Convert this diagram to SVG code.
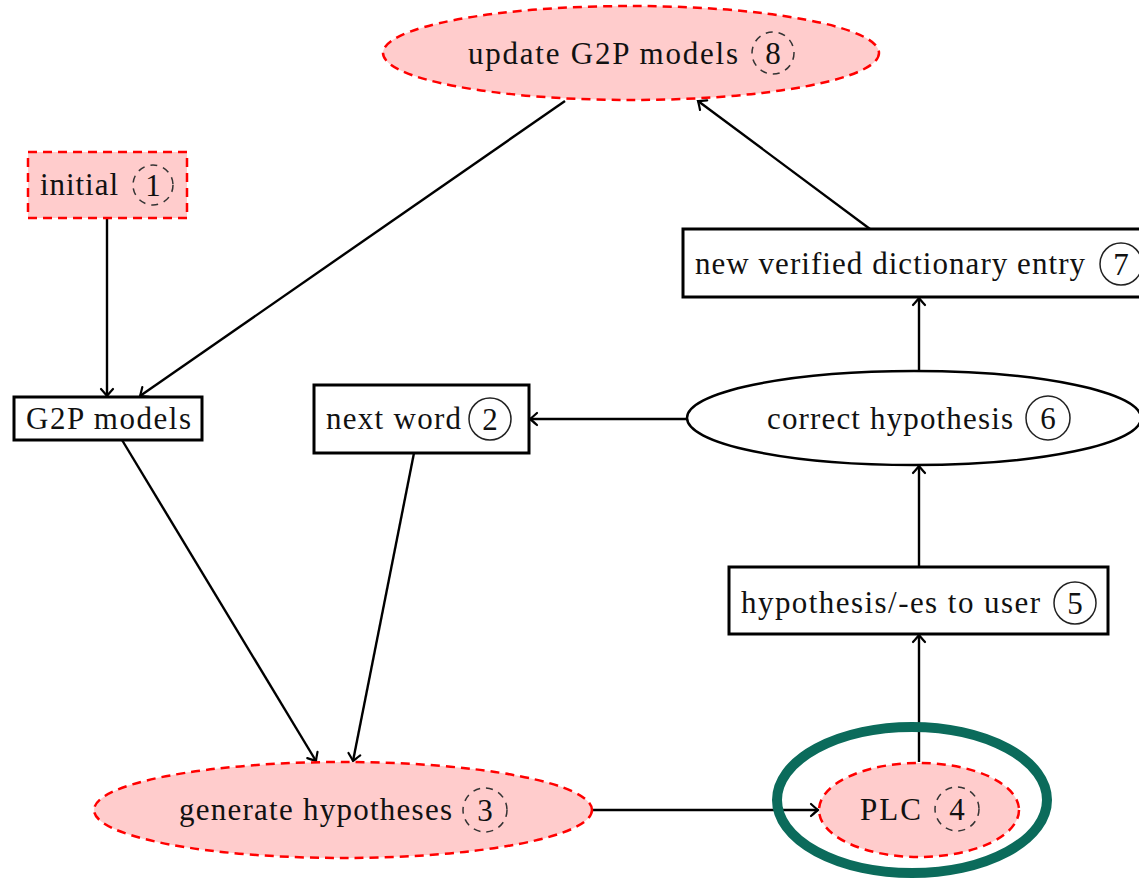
<svg xmlns="http://www.w3.org/2000/svg" width="1139" height="879" viewBox="0 0 1139 879">
<defs>
<marker id="arr" markerUnits="userSpaceOnUse" markerWidth="20" markerHeight="20" viewBox="-10 -10 20 20" refX="0" refY="0" orient="auto">
<path d="M-7,-6 Q-2,-1.5 0,0 Q-2,1.5 -7,6" fill="none" stroke="#000" stroke-width="2.2" stroke-linecap="round"/>
</marker>
</defs>
<style>
.hl{fill:#ffcccc;stroke:#ff0000;stroke-width:2.5;stroke-dasharray:9 6}
.bx{fill:#fff;stroke:#000;stroke-width:3}
.el{fill:#fff;stroke:#000;stroke-width:2.5}
.dc{fill:none;stroke:#333;stroke-width:1.5;stroke-dasharray:7 6}
.sc{fill:none;stroke:#222;stroke-width:1.5}
text{font-family:"Liberation Serif","Times New Roman",serif;font-size:31px;fill:#111}
.num{text-anchor:middle}
.c line{stroke:#000;stroke-width:2.4;marker-end:url(#arr)}
</style>
<g class="c" id="connectors">
<line x1="107" y1="219" x2="107" y2="396"/>
<line x1="565" y1="101" x2="140" y2="396"/>
<line x1="870" y1="229" x2="698" y2="101"/>
<line x1="122" y1="440" x2="316" y2="761"/>
<line x1="414" y1="453" x2="353" y2="761"/>
<line x1="593" y1="810" x2="818" y2="810"/>
<line x1="919" y1="762" x2="919" y2="635"/>
<line x1="919" y1="567" x2="919" y2="466"/>
<line x1="919" y1="371" x2="919" y2="298"/>
<line x1="687" y1="419" x2="530" y2="419"/>
</g>
<g id="n8">
<ellipse class="hl" cx="631" cy="53" rx="248" ry="47"/>
<text x="468" y="64" textLength="270">update G2P models</text>
<circle class="dc" cx="773" cy="53" r="21"/>
<text class="num" x="773" y="64">8</text>
</g>
<g id="n1">
<rect class="hl" x="28" y="152" width="159" height="66"/>
<text x="40" y="195" textLength="78">initial</text>
<circle class="dc" cx="153" cy="185" r="20"/>
<text class="num" x="153" y="196">1</text>
</g>
<g id="n7">
<rect class="bx" x="683" y="229" width="470" height="68"/>
<text x="695" y="274" textLength="390">new verified dictionary entry</text>
<circle class="sc" cx="1121" cy="264" r="21"/>
<text class="num" x="1121" y="275">7</text>
</g>
<g id="g2p">
<rect class="bx" x="14" y="397" width="188" height="43"/>
<text x="26" y="429" textLength="165">G2P models</text>
</g>
<g id="n2">
<rect class="bx" x="314" y="385" width="215" height="68"/>
<text x="326" y="429" textLength="135">next word</text>
<circle class="sc" cx="490" cy="419" r="21"/>
<text class="num" x="490" y="430">2</text>
</g>
<g id="n6">
<ellipse class="el" cx="914" cy="418" rx="227" ry="47"/>
<text x="767" y="429" textLength="246">correct hypothesis</text>
<circle class="sc" cx="1048" cy="418" r="22"/>
<text class="num" x="1048" y="429">6</text>
</g>
<g id="n5">
<rect class="bx" x="729" y="567" width="379" height="67"/>
<text x="741" y="613" textLength="299">hypothesis/-es to user</text>
<circle class="sc" cx="1075" cy="603" r="21"/>
<text class="num" x="1075" y="614">5</text>
</g>
<g id="n3">
<ellipse class="hl" cx="343" cy="810" rx="249" ry="48"/>
<text x="179" y="820" textLength="273">generate hypotheses</text>
<circle class="dc" cx="485" cy="810" r="22"/>
<text class="num" x="485" y="821">3</text>
</g>
<g id="n4">
<ellipse class="hl" cx="919" cy="810" rx="100" ry="47"/>
<text x="860" y="820" textLength="61">PLC</text>
<circle class="dc" cx="957" cy="809" r="22"/>
<text class="num" x="957" y="820">4</text>
</g>
<g id="highlight">
<ellipse cx="912" cy="800" rx="135" ry="73" fill="none" stroke="#0b6b5b" stroke-width="10"/>
</g>
</svg>
